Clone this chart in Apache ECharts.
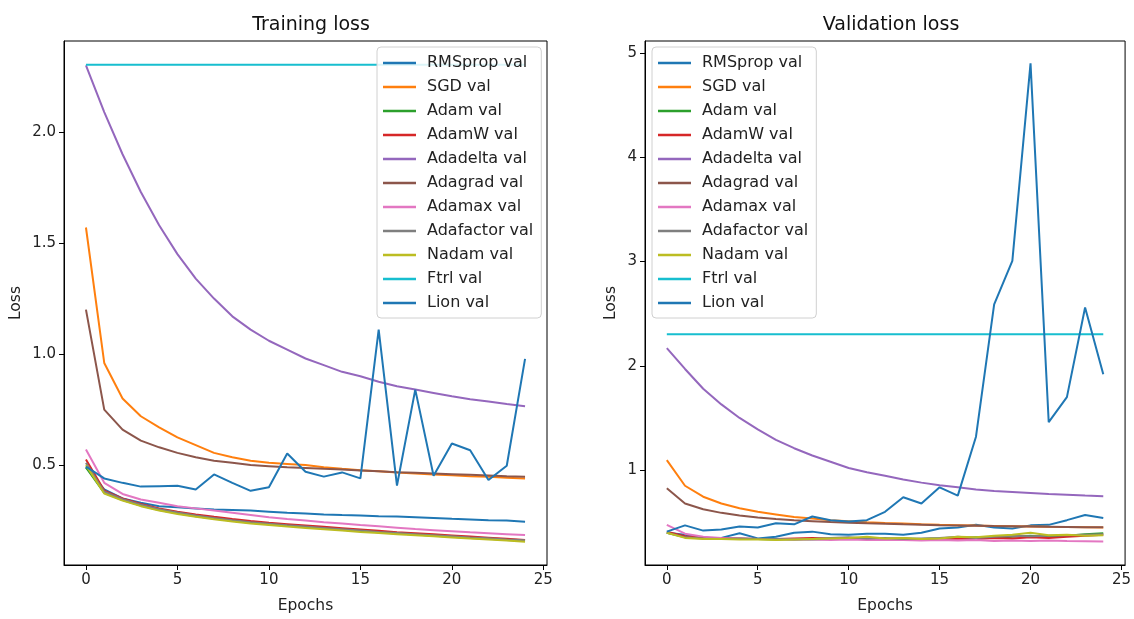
<!DOCTYPE html>
<html>
<head>
<meta charset="utf-8">
<script src="https://cdn.jsdelivr.net/npm/echarts@6/dist/echarts.min.js"></script>
<style>
html,body{margin:0;padding:0;background:#fff}
#main{width:1134px;height:619px}
</style>
</head>
<body>
<div id="main"></div>
<script>
// epochs + tick labels
var epochs = [0,1,2,3,4,5,6,7,8,9,10,11,12,13,14,15,16,17,18,19,20,21,22,23,24];
var xTicks = [0,5,10,15,20,25];
var trainTicks = [0.5,1.0,1.5,2.0];
var valTicks = [1,2,3,4,5];

var names = ['RMSprop val','SGD val','Adam val','AdamW val','Adadelta val','Adagrad val','Adamax val','Adafactor val','Nadam val','Ftrl val','Lion val'];
var colors = ['#1f77b4','#ff7f0e','#2ca02c','#d62728','#9467bd','#8c564b','#e377c2','#7f7f7f','#bcbd22','#17becf','#1f77b4'];

// Training loss (left)
var trRMSprop = [0.49,0.39,0.35,0.33,0.315,0.31,0.305,0.30,0.298,0.295,0.29,0.285,0.282,0.278,0.275,0.273,0.27,0.268,0.265,0.262,0.258,0.255,0.252,0.25,0.245];
var trSGD = [1.57,0.96,0.80,0.72,0.67,0.625,0.59,0.555,0.535,0.52,0.51,0.505,0.50,0.49,0.483,0.477,0.472,0.467,0.462,0.458,0.454,0.45,0.447,0.443,0.44];
var trAdam = [0.49,0.375,0.343,0.318,0.298,0.283,0.27,0.259,0.249,0.24,0.233,0.227,0.221,0.215,0.209,0.203,0.197,0.192,0.187,0.182,0.177,0.172,0.168,0.163,0.159];
var trAdamW = [0.525,0.385,0.35,0.325,0.305,0.29,0.278,0.267,0.257,0.248,0.24,0.234,0.228,0.222,0.216,0.21,0.204,0.198,0.193,0.188,0.183,0.178,0.173,0.168,0.163];
var trAdadelta = [2.30,2.09,1.90,1.73,1.58,1.45,1.34,1.25,1.17,1.11,1.06,1.02,0.98,0.95,0.92,0.90,0.875,0.855,0.84,0.825,0.81,0.797,0.786,0.775,0.765];
var trAdagrad = [1.20,0.75,0.66,0.61,0.58,0.555,0.535,0.52,0.51,0.50,0.495,0.49,0.487,0.483,0.48,0.476,0.472,0.468,0.465,0.462,0.459,0.456,0.453,0.45,0.448];
var trAdamax = [0.57,0.42,0.37,0.345,0.33,0.315,0.305,0.295,0.285,0.275,0.265,0.257,0.25,0.243,0.237,0.23,0.224,0.218,0.212,0.207,0.202,0.197,0.193,0.189,0.185];
var trAdafactor = [0.51,0.38,0.346,0.321,0.301,0.286,0.273,0.262,0.252,0.243,0.236,0.229,0.223,0.217,0.211,0.205,0.199,0.194,0.189,0.184,0.179,0.174,0.17,0.165,0.161];
var trNadam = [0.50,0.372,0.34,0.315,0.295,0.28,0.267,0.256,0.246,0.237,0.23,0.223,0.217,0.211,0.205,0.199,0.194,0.189,0.184,0.179,0.174,0.169,0.165,0.16,0.155];
var trFtrl = [2.3026,2.3026,2.3026,2.3026,2.3026,2.3026,2.3026,2.3026,2.3026,2.3026,2.3026,2.3026,2.3026,2.3026,2.3026,2.3026,2.3026,2.3026,2.3026,2.3026,2.3026,2.3026,2.3026,2.3026,2.3026];
var trLion = [0.493,0.44,0.42,0.403,0.405,0.407,0.39,0.458,0.42,0.384,0.40,0.552,0.47,0.448,0.467,0.44,1.11,0.408,0.84,0.452,0.597,0.567,0.433,0.497,0.978];

// Validation loss (right)
var vaRMSprop = [0.40,0.38,0.35,0.35,0.395,0.345,0.36,0.40,0.41,0.385,0.38,0.39,0.39,0.38,0.40,0.44,0.45,0.475,0.45,0.44,0.47,0.475,0.52,0.57,0.54];
var vaSGD = [1.095,0.85,0.745,0.68,0.635,0.60,0.575,0.55,0.535,0.52,0.51,0.50,0.493,0.487,0.481,0.476,0.472,0.468,0.465,0.462,0.459,0.456,0.454,0.452,0.45];
var vaAdam = [0.40,0.36,0.35,0.345,0.34,0.34,0.335,0.34,0.335,0.34,0.345,0.35,0.34,0.345,0.34,0.345,0.35,0.355,0.35,0.36,0.37,0.36,0.37,0.385,0.395];
var vaAdamW = [0.41,0.365,0.35,0.35,0.345,0.34,0.34,0.345,0.35,0.345,0.35,0.345,0.34,0.345,0.335,0.34,0.345,0.34,0.35,0.345,0.355,0.35,0.36,0.37,0.38];
var vaAdadelta = [2.17,1.97,1.78,1.63,1.50,1.39,1.29,1.21,1.14,1.08,1.02,0.98,0.945,0.91,0.88,0.855,0.835,0.815,0.80,0.79,0.78,0.77,0.763,0.756,0.75];
var vaAdagrad = [0.825,0.68,0.625,0.59,0.565,0.545,0.53,0.518,0.51,0.502,0.496,0.49,0.485,0.48,0.476,0.472,0.469,0.466,0.463,0.461,0.459,0.457,0.455,0.453,0.452];
var vaAdamax = [0.475,0.39,0.36,0.35,0.345,0.34,0.34,0.335,0.335,0.33,0.335,0.33,0.33,0.33,0.325,0.33,0.325,0.33,0.32,0.325,0.32,0.325,0.32,0.318,0.316];
var vaAdafactor = [0.40,0.355,0.345,0.34,0.345,0.34,0.34,0.335,0.34,0.35,0.355,0.345,0.35,0.34,0.345,0.35,0.36,0.35,0.36,0.37,0.365,0.37,0.375,0.38,0.385];
var vaNadam = [0.40,0.35,0.34,0.34,0.335,0.335,0.33,0.335,0.34,0.345,0.35,0.36,0.345,0.35,0.34,0.345,0.36,0.355,0.37,0.38,0.40,0.375,0.38,0.37,0.375];
var vaFtrl = [2.3026,2.3026,2.3026,2.3026,2.3026,2.3026,2.3026,2.3026,2.3026,2.3026,2.3026,2.3026,2.3026,2.3026,2.3026,2.3026,2.3026,2.3026,2.3026,2.3026,2.3026,2.3026,2.3026,2.3026,2.3026];
var vaLion = [0.41,0.47,0.42,0.43,0.46,0.45,0.49,0.48,0.555,0.52,0.507,0.52,0.60,0.74,0.68,0.835,0.755,1.32,2.59,3.006,4.90,1.46,1.70,2.56,1.92];

var trainSets = [trRMSprop,trSGD,trAdam,trAdamW,trAdadelta,trAdagrad,trAdamax,trAdafactor,trNadam,trFtrl,trLion];
var valSets = [vaRMSprop,vaSGD,vaAdam,vaAdamW,vaAdadelta,vaAdagrad,vaAdamax,vaAdafactor,vaNadam,vaFtrl,vaLion];

var font = 'DejaVu Sans';

function pairs(vals){
    var out = [];
    for (var i = 0; i < epochs.length; i++) out.push([epochs[i], vals[i]]);
    return out;
}

var series = [];
for (var k = 0; k < names.length; k++) {
    series.push({
        name: names[k], type: 'line', xAxisIndex: 0, yAxisIndex: 0,
        data: pairs(trainSets[k]), symbol: 'none', silent: true,
        lineStyle: {width: 2, color: colors[k]}, itemStyle: {color: colors[k]}
    });
}
for (var k = 0; k < names.length; k++) {
    series.push({
        name: names[k], type: 'line', xAxisIndex: 1, yAxisIndex: 1,
        data: pairs(valSets[k]), symbol: 'none', silent: true,
        lineStyle: {width: 2, color: colors[k]}, itemStyle: {color: colors[k]}
    });
}

function xAx(idx){
    return {
        type: 'value', gridIndex: idx, min: -1.2, max: 25.2,
        name: 'Epochs', nameLocation: 'middle', nameGap: 33,
        nameTextStyle: {fontFamily: font, fontSize: 15.5, color: '#222'},
        axisLine: {show: true, onZero: false, lineStyle: {color: '#000', width: 1}},
        axisTick: {show: true, length: 5, lineStyle: {color: '#000'}, customValues: xTicks},
        axisLabel: {fontFamily: font, fontSize: 15, color: '#222', margin: 8, customValues: xTicks},
        splitLine: {show: false}
    };
}
function yAx(idx, lo, hi, ticks, gap, fmt){
    return {
        type: 'value', gridIndex: idx, min: lo, max: hi,
        name: 'Loss', nameLocation: 'middle', nameGap: gap, nameRotate: 90,
        nameTextStyle: {fontFamily: font, fontSize: 15.5, color: '#222'},
        axisLine: {show: true, onZero: false, lineStyle: {color: '#000', width: 1}},
        axisTick: {show: true, length: 5, lineStyle: {color: '#000'}, customValues: ticks},
        axisLabel: {fontFamily: font, fontSize: 15, color: '#222', margin: 8, customValues: ticks, formatter: fmt},
        splitLine: {show: false}
    };
}

function legendAt(x){
    return {
        data: names, orient: 'vertical', left: x, top: 47,
        padding: [8, 8, 7, 6], itemGap: 8, itemWidth: 33, itemHeight: 2.5, icon: 'rect',
        backgroundColor: 'rgba(255,255,255,0.85)', borderColor: '#d0d0d0', borderWidth: 1, borderRadius: 4,
        textStyle: {fontFamily: font, fontSize: 16, color: '#222', padding: [0, 0, 0, 6]},
        selectedMode: false
    };
}

var option = {
    backgroundColor: '#fff',
    animation: false,
    title: [
        {text: 'Training loss', left: 306, top: 11, textAlign: 'center', textStyle: {fontFamily: font, fontSize: 19, fontWeight: 'normal', color: '#111'}},
        {text: 'Validation loss', left: 886, top: 11, textAlign: 'center', textStyle: {fontFamily: font, fontSize: 19, fontWeight: 'normal', color: '#111'}}
    ],
    grid: [
        {left: 64, top: 41, width: 483, height: 526, show: true, borderColor: '#000', borderWidth: 1, backgroundColor: 'transparent'},
        {left: 645, top: 41, width: 482, height: 526, show: true, borderColor: '#000', borderWidth: 1, backgroundColor: 'transparent'}
    ],
    legend: [legendAt(377), legendAt(652)],
    xAxis: [xAx(0), xAx(1)],
    yAxis: [
        yAx(0, 0.05, 2.41, trainTicks, 40, function(v){ return v.toFixed(1); }),
        yAx(1, 0.09, 5.115, valTicks, 26, function(v){ return String(v); })
    ],
    series: series
};

var myChart = echarts.init(document.getElementById('main'));
myChart.setOption(option);
</script>
</body>
</html>
